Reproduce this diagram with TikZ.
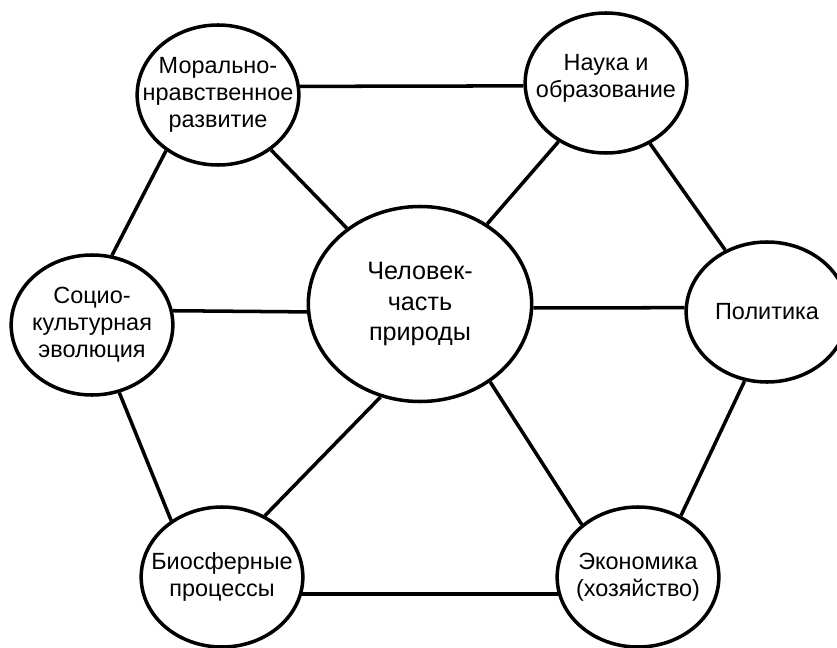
\documentclass[tikz,border=0pt]{standalone}
\usepackage{fontspec}
\setmainfont{Liberation Sans}
\usetikzlibrary{shapes.geometric}
\begin{document}
\begin{tikzpicture}[x=0.03cm,y=-0.03cm,line width=3pt,
    topic/.style={ellipse,draw,inner sep=0pt,minimum width=4.85cm,minimum height=4.2cm},
    core/.style={topic,minimum width=6.7cm,minimum height=5.85cm},
    txt/.style={align=center,inner sep=0pt,font=\fontsize{20}{23}\selectfont},
    coretxt/.style={txt,font=\fontsize{21.5}{26}\selectfont}]
    \useasboundingbox(0,0)rectangle(837,648);
    \node[core](man)at(420,304){};
    \node[topic](moral)at(218,95){};
    \node[topic](nauka)at(606,83){};
    \node[topic](social)at(92,325){};
    \node[topic](polit)at(767,312){};
    \node[topic](bio)at(222,577){};
    \node[topic](econ)at(638,577){};
    % labels
    \node[coretxt](man-t)at(man){Человек-\\часть\\природы};
    \node[txt](moral-t)at(moral){Морально-\\нравственное\\развитие};
    \node[txt](nauka-t)at(606,78){Наука и\\образование};
    \node[txt](social-t)at(social){Социо-\\культурная\\эволюция};
    \node[txt](polit-t)at(polit){Политика};
    \node[txt](bio-t)at(bio){Биосферные\\процессы};
    \node[txt](econ-t)at(econ){Экономика\\(хозяйство)};
    \foreach\a/\b in{moral.6/nauka.182,moral.227/social.74,moral.-46/man.134,
        nauka.231/man.50,nauka.-54/polit.124,social.10/man.184,social.-68/bio.132,
        man.-2/polit.177,man.247/bio.55,man.-48/econ.137,polit.252/econ.55,bio.-12/econ.192}
        \draw(\a)--(\b);
\end{tikzpicture}
\end{document}
